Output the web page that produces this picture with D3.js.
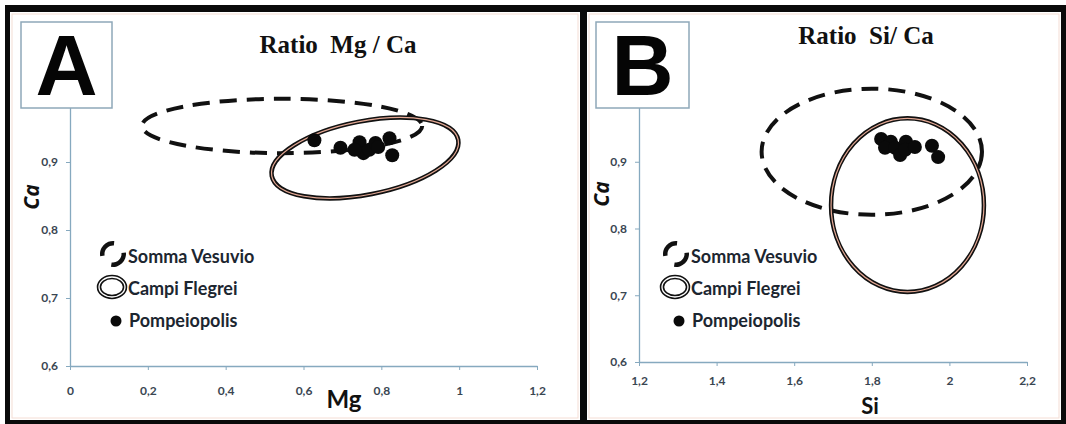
<!DOCTYPE html>
<html>
<head>
<meta charset="utf-8">
<script src="https://cdn.jsdelivr.net/npm/d3@7"></script>
<style>
  body { margin: 0; background: #fff; }
  svg { display: block; }
</style>
</head>
<body>
<script>
const width = 1066;
const height = 424;

// tick values
const mgTicks = [0, 0.2, 0.4, 0.6, 0.8, 1, 1.2];
const siTicks = [1.2, 1.4, 1.6, 1.8, 2, 2.2];
const caTicks = [0.6, 0.7, 0.8, 0.9];

// Pompeiopolis samples
const mgPompeiopolis = [0.628, 0.695, 0.744, 0.754, 0.731, 0.769, 0.785, 0.792, 0.821, 0.828];
const caPompeiopolisA = [0.932, 0.921, 0.929, 0.913, 0.918, 0.918, 0.928, 0.922, 0.935, 0.910];
const siPompeiopolis = [1.824, 1.849, 1.834, 1.860, 1.873, 1.888, 1.886, 1.911, 1.955, 1.971];
const caPompeiopolisB = [0.934, 0.930, 0.921, 0.921, 0.910, 0.930, 0.918, 0.922, 0.924, 0.907];

// fields: [centre x, centre Ca, half width, half height]
const vesuvioA = [0.545, 0.953, 0.36, 0.040];
const flegreiA = [0.758, 0.906, 0.244, 0.054];
const vesuvioB = [1.80, 0.915, 0.284, 0.0945];
const flegreiB = [1.892, 0.835, 0.197, 0.130];

const legendNames = ["Somma Vesuvio", "Campi Flegrei", "Pompeiopolis"];

const sans = "Lato, 'Open Sans', sans-serif";
const axisColor = "#86a9bf";
const tickColor = "#3a4652";

let svg = d3.select("body").append("svg")
    .attr("width", width)
    .attr("height", height);

svg.append("rect").attr("width", width).attr("height", height).attr("fill", "#fff");
// black frame
svg.append("rect")
    .attr("x", 5).attr("y", 5)
    .attr("width", width - 5).attr("height", height - 5)
    .attr("fill", "#0a0a0a");

function drawPanel(p) {
    let g = svg.append("g");

    g.append("rect")
        .attr("x", p.box[0]).attr("y", p.box[1])
        .attr("width", p.box[2]).attr("height", p.box[3])
        .attr("fill", "#fff");
    g.append("rect")
        .attr("x", p.box[0] + 2).attr("y", p.box[1] + 2)
        .attr("width", p.box[2] - 4).attr("height", p.box[3] - 4)
        .attr("fill", "none")
        .attr("stroke", "#f4ddd4")
        .attr("stroke-width", 1);

    let xScale = d3.scaleLinear().domain(p.xDomain).range(p.xRange);
    let yScale = d3.scaleLinear().domain([0.6, 1.0]).range(p.yRange);
    const fmt = d => String(d).replace(".", ",");

    let xAxis = g.append("g")
        .attr("transform", `translate(0,${yScale(0.6)})`)
        .call(d3.axisBottom(xScale).tickValues(p.xTicks).tickFormat(fmt).tickSize(4).tickSizeOuter(0));
    let yAxis = g.append("g")
        .attr("transform", `translate(${xScale(p.xDomain[0])},0)`)
        .call(d3.axisLeft(yScale).tickValues(caTicks).tickFormat(fmt).tickSize(4).tickSizeOuter(0));

    [xAxis, yAxis].forEach(a => {
        a.select(".domain").attr("stroke", axisColor).attr("stroke-width", 1.3);
        a.selectAll(".tick line").attr("stroke", axisColor);
        a.selectAll(".tick text")
            .attr("fill", tickColor)
            .style("font-family", sans)
            .style("font-weight", "bold")
            .style("font-size", "12px");
    });
    xAxis.selectAll(".tick text").attr("dy", p.xTickDy);
    yAxis.selectAll(".tick text").attr("x", -12);

    // fields
    function field(f, angle, dashed) {
        let cx = xScale(f[0]), cy = yScale(f[1]);
        let rx = xScale(f[0] + f[2]) - cx, ry = cy - yScale(f[1] + f[3]);
        let e = () => g.append("ellipse")
            .attr("cx", cx).attr("cy", cy).attr("rx", rx).attr("ry", ry)
            .attr("transform", `rotate(${angle},${cx},${cy})`)
            .attr("fill", "none");
        if (dashed) {
            e().attr("stroke", "#111").attr("stroke-width", 4).attr("stroke-dasharray", "17,10");
        } else {
            e().attr("stroke", "#111").attr("stroke-width", 4.5);
            e().attr("stroke", "#e3a894").attr("stroke-width", 1.2);
        }
    }
    field(p.vesuvio, p.vesuvioAngle, true);
    field(p.flegrei, p.flegreiAngle, false);

    g.selectAll(".dot")
        .data(p.xs)
        .enter()
        .append("circle")
        .attr("class", "dot")
        .attr("cx", d => xScale(d))
        .attr("cy", (d, i) => yScale(p.ys[i]))
        .attr("r", 7)
        .attr("fill", "#0a0a0a");

    // letter box
    g.append("rect")
        .attr("x", p.letterBox[0]).attr("y", 22)
        .attr("width", p.letterBox[1]).attr("height", 86)
        .attr("fill", "#fff")
        .attr("stroke", "#8ea8b9")
        .attr("stroke-width", 1.5);
    g.append("text")
        .attr("x", p.letterBox[0] + p.letterBox[1] / 2)
        .attr("y", 95)
        .attr("text-anchor", "middle")
        .style("font-family", "'Liberation Sans', Arial, sans-serif")
        .style("font-weight", "bold")
        .style("font-size", "86px")
        .attr("fill", "#050505")
        .text(p.letter);

    // title
    g.append("text")
        .attr("x", p.title[1]).attr("y", p.title[2])
        .attr("text-anchor", "middle")
        .style("font-family", "'Liberation Serif', 'Times New Roman', serif")
        .style("font-weight", "bold")
        .style("font-size", "25px")
        .style("white-space", "pre")
        .attr("fill", "#111")
        .text(p.title[0]);

    // axis titles
    g.append("text")
        .attr("x", p.xLabel[1]).attr("y", p.xLabel[2])
        .attr("text-anchor", "middle")
        .style("font-family", sans)
        .style("font-weight", "bold")
        .style("font-size", p.xLabel[3] + "px")
        .attr("fill", "#111")
        .text(p.xLabel[0]);
    g.append("text")
        .attr("transform", `translate(${p.yLabel[0]},${p.yLabel[1]}) rotate(-90)`)
        .attr("text-anchor", "middle")
        .style("font-family", "'Open Sans', sans-serif")
        .style("font-weight", "bold")
        .style("font-style", "italic")
        .style("font-size", "21px")
        .attr("fill", "#111")
        .text("Ca");

    // legend
    let lx = p.legend[0], ly = p.legend[1];
    let arc = d3.arc().innerRadius(8.5).outerRadius(13);
    let sym = g.append("g").attr("transform", `translate(${lx - 15},${ly - 9})`);
    sym.append("path").attr("d", arc({startAngle: -1.75, endAngle: 0.1})).attr("fill", "#111");
    sym.append("path").attr("d", arc({startAngle: 1.45, endAngle: 3.3})).attr("fill", "#111");

    g.append("ellipse")
        .attr("cx", lx - 16).attr("cy", ly + 24).attr("rx", 13).attr("ry", 10)
        .attr("fill", "none").attr("stroke", "#111").attr("stroke-width", 4.5);
    g.append("ellipse")
        .attr("cx", lx - 16).attr("cy", ly + 24).attr("rx", 13).attr("ry", 10)
        .attr("fill", "none").attr("stroke", "#fff").attr("stroke-width", 1.3);
    g.append("circle")
        .attr("cx", lx - 12).attr("cy", ly + 58).attr("r", 5.5)
        .attr("fill", "#0a0a0a");

    g.selectAll(".legend-label")
        .data(legendNames)
        .enter()
        .append("text")
        .attr("class", "legend-label")
        .attr("x", (d, i) => lx + (i === 2 ? 1 : 0))
        .attr("y", (d, i) => ly + i * 32)
        .style("font-family", sans)
        .style("font-weight", "bold")
        .style("font-size", "18px")
        .attr("fill", "#1c2630")
        .text(d => d);
}

drawPanel({
    box: [10, 12, 570, 408],
    xDomain: [0, 1.2], xRange: [70, 537], yRange: [366, 94],
    xTicks: mgTicks, xTickDy: "1.8em",
    xs: mgPompeiopolis, ys: caPompeiopolisA,
    vesuvio: vesuvioA, vesuvioAngle: 0,
    flegrei: flegreiA, flegreiAngle: -11,
    letter: "A", letterBox: [21, 91],
    title: ["Ratio  Mg / Ca", 338, 53],
    xLabel: ["Mg", 344, 408, 24],
    yLabel: [39, 197],
    legend: [128, 263]
});

drawPanel({
    box: [587, 12, 474, 408],
    xDomain: [1.2, 2.2], xRange: [639, 1027], yRange: [362, 95],
    xTicks: siTicks, xTickDy: "1.3em",
    xs: siPompeiopolis, ys: caPompeiopolisB,
    vesuvio: vesuvioB, vesuvioAngle: 0,
    flegrei: flegreiB, flegreiAngle: 0,
    letter: "B", letterBox: [596, 93],
    title: ["Ratio  Si/ Ca", 866, 44],
    xLabel: ["Si", 870, 414, 22],
    yLabel: [609, 194],
    legend: [691, 263]
});
</script>
</body>
</html>
